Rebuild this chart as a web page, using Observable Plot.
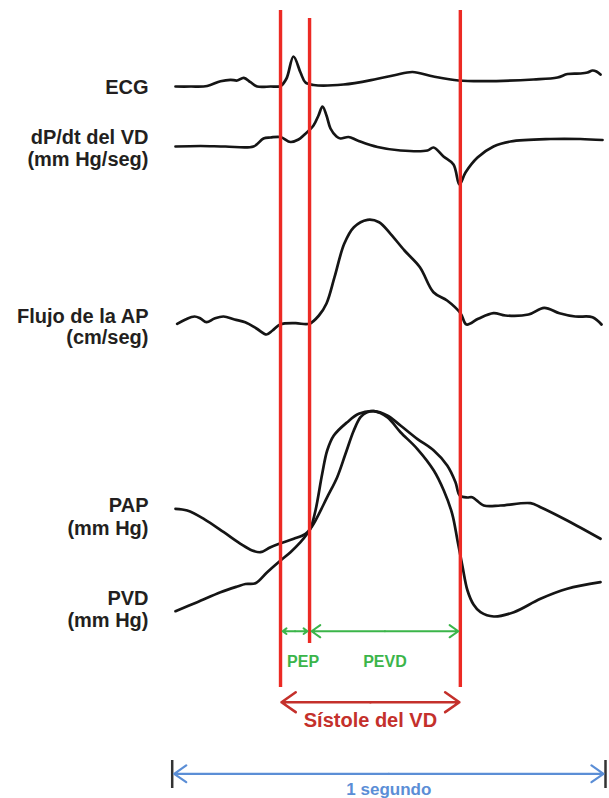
<!DOCTYPE html>
<html><head><meta charset="utf-8">
<script src="https://cdn.jsdelivr.net/npm/d3@7"></script>
<script src="https://cdn.jsdelivr.net/npm/@observablehq/plot@0.6"></script>
<style>body{margin:0;background:#fff}svg{display:block}</style>
</head><body><div id="chart"></div>
<script>
// ---- DATA (time in seconds, amplitude in arbitrary trace units, up = positive) ----
const ecgT = [0.0076,0.0422,0.0808,0.1115,0.1346,0.1500,0.1652,0.1807,0.1962,0.2269,0.2500,0.2638,0.2799,0.2961,0.3076,0.3261,0.3953,0.4715,0.5153,0.5546,0.6030,0.6607,0.7184,0.8338,0.8892,0.9123,0.9423,0.9585,0.9700,0.9792,0.9885];
const ecgA = [0,0,0.5,5.3,6.7,6,8.7,4.3,0,0,0.5,8,30,14,4,1.5,2,7.5,11.5,14.5,10,6,5.3,7,9,12.5,13,14,16,15,12];

const dpdtT = [0.0076,0.0653,0.1230,0.1876,0.2107,0.2269,0.2500,0.2730,0.2915,0.3030,0.3261,0.3376,0.3469,0.3561,0.3653,0.3792,0.3885,0.4069,0.4277,0.4738,0.5269,0.5892,0.6030,0.6261,0.6492,0.6630,0.6769,0.7046,0.7415,0.7808,0.8731,0.9423,0.9931];
const dpdtA = [0,0.5,0,0,8,9,9.5,4.5,7,11,21,31,40,31,18,10,8,9.5,6,-0.5,-4,-4,-1,-10,-18,-38,-26,-11,0,5,7.5,7.5,6.5];

const flowT = [0.0115,0.0307,0.0515,0.0653,0.0792,0.0976,0.1184,0.1438,0.1685,0.1946,0.2176,0.2315,0.2490,0.2846,0.3162,0.3386,0.3561,0.3746,0.3970,0.4193,0.4507,0.4775,0.5038,0.5361,0.5717,0.6030,0.6344,0.6654,0.6792,0.7062,0.7415,0.7692,0.8223,0.8585,0.8938,0.9303,0.9700,0.9908];
const flowA = [-1.3,3,6,4,0.3,4,6,3,0.3,-6,-12,-8,-2,-0.7,-1.3,7,19,45.3,78.7,95.3,102.7,100.3,88.7,72,55.3,30.3,22,9.3,-2,3.7,9.3,7,8,14.7,9.3,6,5.3,-2];

const papT = [0.0076,0.0346,0.0729,0.1191,0.1576,0.1846,0.2038,0.2269,0.2500,0.2806,0.3076,0.3192,0.3307,0.3577,0.3808,0.4000,0.4191,0.4346,0.4484,0.4653,0.4962,0.5269,0.5654,0.6037,0.6347,0.6538,0.6637,0.6808,0.6924,0.7191,0.7577,0.8269,0.8500,0.9116,0.9885];
const papA = [21.7,20,11.7,-1.7,-13.3,-20,-21.7,-16.7,-12.7,-8.3,-3.3,2,10,33.3,53.3,76.7,100,113.3,118,119.3,115,105,91.7,80,65,48.3,35,33,33.3,25,25,27.3,23.3,10,-8.3];

const pvdT = [0.0076,0.0577,0.1115,0.1500,0.1692,0.1922,0.2192,0.2500,0.2730,0.2961,0.3116,0.3192,0.3307,0.3462,0.3577,0.3730,0.4039,0.4306,0.4653,0.4962,0.5269,0.5654,0.6037,0.6268,0.6462,0.6584,0.6700,0.6815,0.6954,0.7115,0.7422,0.7884,0.8500,0.9116,0.9885];
const pvdA = [-80.7,-71.7,-61.7,-56,-53.5,-52.7,-41.7,-30,-21.7,-11.7,-3.3,2,20,56.7,80,95,108.3,116.7,119.3,113.3,98.3,81.7,60,40,16.7,-10,-36,-60,-74,-81.7,-86,-81.7,-68.3,-58.3,-51.7];

const traceNames = ["ECG", "dP/dt", "Flujo", "PAP", "PVD"];
const traceLabels = [["ECG"], ["dP/dt del VD", "(mm Hg/seg)"], ["Flujo de la AP", "(cm/seg)"], ["PAP", "(mm Hg)"], ["PVD", "(mm Hg)"]];

const eventTimes = [0.25, 0.317, 0.665];           // start systole, valve opening, end ejection
const intervalNames = ["PEP", "PEVD", "Sístole del VD", "1 segundo"];
const intervalStart = [0.25, 0.317, 0.25, 0];
const intervalEnd   = [0.317, 0.665, 0.665, 1];

// ---- LAYOUT ----
const W = 609, H = 798;
const px0 = 171.7, pxPerSec = 433.3;
const baseY = {"ECG": 86, "dP/dt": 146, "Flujo": 322, "PAP": 530, "PVD": 530};
const labelY = [[87], [137, 159], [316, 337], [505, 528], [598, 620]];
const labelX = (148 - px0) / pxPerSec;
const font = "'Liberation Sans', Arial, Helvetica, sans-serif";

const series = [[ecgT, ecgA], [dpdtT, dpdtA], [flowT, flowA], [papT, papA], [pvdT, pvdA]];
const rows = [];
series.forEach(([T, A], i) => T.forEach((t, j) => rows.push({trace: traceNames[i], t, y: baseY[traceNames[i]] - A[j]})));

const labelRows = [];
traceLabels.forEach((lines, i) => lines.forEach((text, j) => labelRows.push({text, y: labelY[i][j]})));

const rules = eventTimes.map((t, i) => ({t, y1: i === 1 ? 18 : 10, y2: i === 1 ? 643 : 687}));

const intervals = intervalNames.map((name, i) => ({name, t1: intervalStart[i], t2: intervalEnd[i], mid: (intervalStart[i] + intervalEnd[i]) / 2}));
const styleOf = {
  "PEP": {y: 630.7, ty: 661, color: "#3bb54a", size: 16, head: 8, sw: 2, inset: 2, dx: 8},
  "PEVD": {y: 630.7, ty: 661, color: "#3bb54a", size: 16, head: 8, sw: 2, inset: 2, dx: 0},
  "Sístole del VD": {y: 701.7, ty: 720, color: "#c4302b", size: 20, head: 10, sw: 2.6, inset: 1, dx: 0},
  "1 segundo": {y: 773.3, ty: 789, color: "#5b8ed6", size: 17, head: 10, sw: 2.2, inset: 2, dx: 0}
};
const arrowRows = [];
intervals.forEach(d => {
  const s = styleOf[d.name];
  arrowRows.push({...d, s, from: d.mid, to: d.t1});
  arrowRows.push({...d, s, from: d.mid, to: d.t2});
});

const marks = [
  Plot.line(rows, {x: "t", y: "y", z: "trace", stroke: "#151515", strokeWidth: 2.7, curve: "catmull-rom"}),
  Plot.ruleX(rules, {x: "t", y1: "y1", y2: "y2", stroke: "#ec2a24", strokeWidth: 3.4}),
  Plot.text(labelRows, {x: () => labelX, y: "y", text: "text", textAnchor: "end", fontSize: 20, fontWeight: "bold", fill: "#231f20"}),
  Plot.ruleX(intervals.filter(d => d.name === "1 segundo").flatMap(d => [d.t1, d.t2]), {y1: 760, y2: 788, stroke: "#333", strokeWidth: 2.5})
];
for (const name of intervalNames) {
  const s = styleOf[name];
  const ar = arrowRows.filter(d => d.name === name);
  marks.push(Plot.arrow(ar, {x1: "from", x2: "to", y1: () => s.y, y2: () => s.y, stroke: s.color, strokeWidth: s.sw, headLength: s.head, headAngle: 70, insetEnd: s.inset}));
  marks.push(Plot.text(intervals.filter(d => d.name === name), {x: "mid", y: () => s.ty, text: "name", dx: s.dx, fill: s.color, fontSize: s.size, fontWeight: "bold"}));
}

const chart = Plot.plot({
  width: W, height: H,
  marginTop: 0, marginRight: 0, marginBottom: 0, marginLeft: 0,
  x: {domain: [-px0 / pxPerSec, (W - px0) / pxPerSec], axis: null},
  y: {domain: [0, H], range: [0, H], axis: null},
  style: {fontFamily: font, background: "#fff", overflow: "visible"},
  marks
});
document.getElementById("chart").appendChild(chart);
</script>
</body></html>
